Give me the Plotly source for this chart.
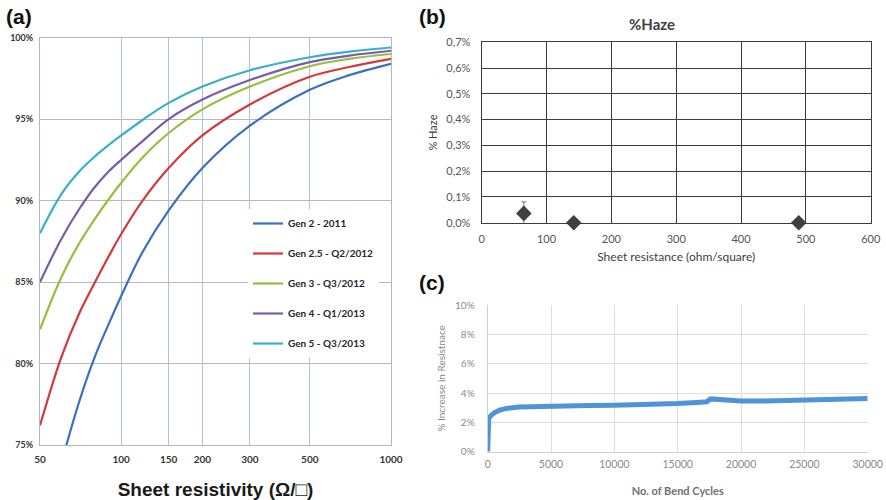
import plotly.graph_objects as go

# ---------------- data ----------------
# (a) transmission (%) vs sheet resistivity (ohm/sq)
rs = [50, 60, 70, 80, 90, 100, 120, 150, 200, 300, 500, 700, 1000]
gen2 = [69.0, 73.9, 77.7, 80.45, 82.45, 84.15, 86.85, 89.4, 92.0, 94.6, 96.8, 97.7, 98.4]
gen25 = [76.2, 80.4, 83.1, 85.0, 86.6, 87.95, 90.0, 92.0, 94.0, 95.9, 97.6, 98.2, 98.7]
gen3 = [82.1, 85.3, 87.4, 88.9, 90.1, 91.1, 92.65, 94.15, 95.6, 97.0, 98.25, 98.7, 99.0]
gen4 = [85.0, 87.65, 89.5, 90.85, 91.8, 92.5, 93.65, 95.0, 96.2, 97.4, 98.5, 98.9, 99.2]
gen5 = [88.0, 90.4, 91.8, 92.72, 93.42, 94.0, 94.95, 96.0, 97.0, 98.0, 98.8, 99.15, 99.4]
gen_names = ["Gen 2 - 2011", "Gen 2.5 - Q2/2012", "Gen 3 - Q3/2012",
             "Gen 4 - Q1/2013", "Gen 5 - Q3/2013"]
gen_colors = ["#3a6fc2", "#d2393a", "#95bf3c", "#7c5aa8", "#38b0ca"]
a_xticks = [50, 100, 150, 200, 300, 500, 1000]
a_yticks = [75, 80, 85, 90, 95, 100]

# (b) haze (%) vs sheet resistance
haze_x = [65, 142, 489]
haze_y = [0.036, 0.0, 0.0]
haze_err = [0.045, 0.0, 0.0]
b_yticks = [0, 0.1, 0.2, 0.3, 0.4, 0.5, 0.6, 0.7]
b_yticktext = ["0,0%", "0,1%", "0,2%", "0,3%", "0,4%", "0,5%", "0,6%", "0,7%"]
b_xticks = [0, 100, 200, 300, 400, 500, 600]

# (c) resistance increase (%) vs bend cycles
cycles = [0, 30, 80, 300, 600, 1000, 1500, 2500, 4000, 6000, 8000, 10000, 12000,
          13500, 15000, 16500, 17300, 17600, 18200, 19000, 20000, 22000, 24000,
          25000, 25500, 27000, 28500, 30000]
res_inc = [0.0, 1.8, 2.3, 2.5, 2.7, 2.85, 2.95, 3.05, 3.1, 3.12, 3.15, 3.17, 3.2,
           3.2, 3.28, 3.35, 3.4, 3.6, 3.55, 3.47, 3.45, 3.45, 3.48,
           3.5, 3.58, 3.58, 3.6, 3.62]
c_yticks = [0, 2, 4, 6, 8, 10]
c_xticks = [0, 5000, 10000, 15000, 20000, 25000, 30000]

W, H = 886, 500
def px(x): return x / W
def py(y): return 1 - y / H

fig = go.Figure()

for name, ys, col in zip(gen_names, [gen2, gen25, gen3, gen4, gen5], gen_colors):
    fig.add_trace(go.Scatter(x=rs, y=ys, mode="lines", name=name,
                             line=dict(color=col, width=2.2, shape="spline", smoothing=1.0),
                             legendgroup=name, xaxis="x", yaxis="y"))

fig.add_trace(go.Scatter(x=haze_x, y=haze_y, mode="markers", showlegend=False,
                         marker=dict(symbol="diamond", size=12, color="#404040"),
                         error_y=dict(type="data", array=haze_err, color="#777777",
                                      thickness=1, width=2.5),
                         cliponaxis=False, xaxis="x2", yaxis="y2"))

fig.add_trace(go.Scatter(x=cycles, y=res_inc, mode="lines", showlegend=False,
                         line=dict(color="#4f94d8", width=5),
                         xaxis="x3", yaxis="y3"))

fig.update_layout(
    width=W, height=H, margin=dict(l=0, r=0, t=0, b=0, autoexpand=False),
    paper_bgcolor="white", plot_bgcolor="white",
    font=dict(family="Lato", color="#333333"),
    showlegend=True,
    legend=dict(x=px(248), y=py(209), xanchor="left", yanchor="top",
                bgcolor="white", borderwidth=0, tracegroupgap=11,
                font=dict(family="Lato", size=10, color="#262626", weight="bold")),
    # panel (a)
    xaxis=dict(domain=[px(40), px(391)], type="log", automargin=False,
               range=[1.69897, 3.0], tickvals=a_xticks, ticktext=[str(v) for v in a_xticks],
               showgrid=True, gridcolor="#a9c2e2", gridwidth=1.2,
               showline=True, linecolor="#b0b8c8", mirror=True, zeroline=False,
               ticks="", ticklabelstandoff=5,
               tickfont=dict(family="Lato", size=10, color="#333333", weight="bold"),
               title=dict(text="Sheet resistivity (Ω/□)", standoff=26,
                          font=dict(family="Liberation Sans", size=19, color="#1a1a1a", weight="bold")),
               anchor="y"),
    yaxis=dict(domain=[py(445), py(37.7)], range=[75, 100], tickvals=a_yticks,
               ticktext=[f"{v}%" for v in a_yticks], automargin=False,
               showgrid=True, gridcolor="#b8b8b8", gridwidth=1.2,
               showline=True, linecolor="#b0b8c8", mirror=True, zeroline=False,
               ticks="", ticklabelstandoff=4,
               tickfont=dict(family="Lato", size=9, color="#333333", weight="bold"),
               anchor="x"),
    # panel (b)
    xaxis2=dict(domain=[px(481.7), px(870.7)], range=[0, 600], tickvals=b_xticks,
                ticktext=[str(v) for v in b_xticks], automargin=False,
                showgrid=True, gridcolor="#3c3c3c", gridwidth=1.3,
                showline=True, linecolor="#3c3c3c", linewidth=1.3, mirror=True, zeroline=False,
                ticks="", ticklabelstandoff=6,
                tickfont=dict(family="Lato", size=11, color="#555555"),
                title=dict(text="Sheet resistance (ohm/square)", standoff=8,
                           font=dict(family="Lato", size=12, color="#404040")),
                anchor="y2"),
    yaxis2=dict(domain=[py(222.7), py(42.3)], range=[0, 0.7], tickvals=b_yticks,
                ticktext=b_yticktext, automargin=False,
                showgrid=True, gridcolor="#3c3c3c", gridwidth=1.3,
                showline=True, linecolor="#3c3c3c", linewidth=1.3, mirror=True, zeroline=False,
                ticks="", ticklabelstandoff=8,
                tickfont=dict(family="Lato", size=11, color="#555555"),
                title=dict(text="% Haze", standoff=6,
                           font=dict(family="Lato", size=11, color="#404040")),
                anchor="x2"),
    # panel (c)
    xaxis3=dict(domain=[px(487.7), px(867.7)], range=[0, 30000], tickvals=c_xticks,
                ticktext=[str(v) for v in c_xticks], automargin=False,
                showgrid=True, gridcolor="#dedede", gridwidth=1,
                showline=True, linecolor="#d0d0d0", zeroline=False,
                ticks="", ticklabelstandoff=3,
                tickfont=dict(family="Lato", size=10.5, color="#8a8a8a"),
                title=dict(text="No. of Bend Cycles", standoff=18,
                           font=dict(family="Lato", size=11, color="#707070", weight="bold")),
                anchor="y3"),
    yaxis3=dict(domain=[py(451.7), py(305)], range=[0, 10], tickvals=c_yticks,
                ticktext=[f"{v}%" for v in c_yticks], automargin=False,
                showgrid=True, gridcolor="#dedede", gridwidth=1,
                showline=True, linecolor="#d0d0d0", zeroline=False,
                ticks="", ticklabelstandoff=10,
                tickfont=dict(family="Lato", size=10, color="#8a8a8a"),
                title=dict(text="% Increase in Resistnace", standoff=7,
                           font=dict(family="Lato", size=10, color="#8a8a8a")),
                anchor="x3"),
    annotations=[
        dict(text="(a)", x=px(19), y=py(16), xref="paper", yref="paper", showarrow=False,
             xanchor="center", yanchor="middle",
             font=dict(family="Liberation Sans", size=21, color="#111111", weight="bold")),
        dict(text="(b)", x=px(432), y=py(16), xref="paper", yref="paper", showarrow=False,
             xanchor="center", yanchor="middle",
             font=dict(family="Liberation Sans", size=21, color="#111111", weight="bold")),
        dict(text="(c)", x=px(432), y=py(282), xref="paper", yref="paper", showarrow=False,
             xanchor="center", yanchor="middle",
             font=dict(family="Liberation Sans", size=21, color="#111111", weight="bold")),
        dict(text="%Haze", x=px(652), y=py(24), xref="paper", yref="paper", showarrow=False,
             xanchor="center", yanchor="middle",
             font=dict(family="Lato", size=15, color="#404040", weight="bold")),
    ],
)

fig.write_html("out.html")
